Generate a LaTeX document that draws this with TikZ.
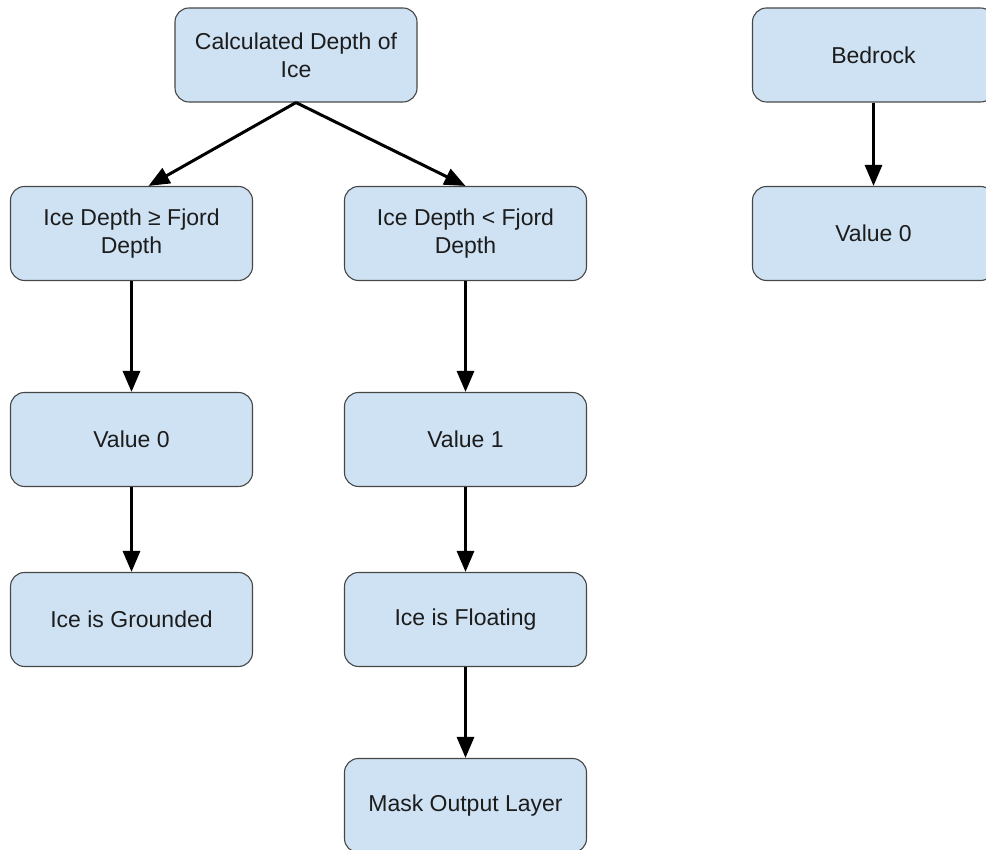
\documentclass[tikz,border=0pt]{standalone}
\usepackage{fontspec}
\setmainfont{Liberation Sans}
\usetikzlibrary{arrows.meta}
\definecolor{boxfill}{HTML}{CFE2F3}
\definecolor{boxline}{HTML}{474747}
\definecolor{boxtext}{HTML}{1C1C1C}
\tikzset{
  flowbox/.style={draw=boxline, line width=1.1pt, fill=boxfill, rounded corners=14pt,
    minimum width=242pt, minimum height=94pt, align=center, text=boxtext,
    font=\fontsize{23}{28}\selectfont, inner sep=0pt},
  flowarrow/.style={line width=3pt, -{Triangle[length=21pt,width=17pt]}}
}
\begin{document}
\begin{tikzpicture}[x=1pt,y=1pt]
                \clip (0,0) rectangle (986,850);
                \useasboundingbox (0,0) rectangle (986,850);
                
                % Top row
                \node [flowbox] (calc) at (296,795) {Calculated Depth of\\Ice};
                \node [flowbox] (bedrock) at (873.5,795) {Bedrock};
                
                % Comparison of depths
                \node [flowbox] (geq) at (131.5,616.5) {Ice Depth ≥ Fjord\\Depth};
                \node [flowbox] (lt) at (465.5,616.5) {Ice Depth < Fjord\\Depth};
                \node [flowbox] (rockval) at (873.5,616.5) {Value 0};
                
                % Values
                \node [flowbox] (valzero) at (131.5,410.5) {Value 0};
                \node [flowbox] (valone) at (465.5,410.5) {Value 1};
                
                % States
                \node [flowbox] (grounded) at (131.5,230.5) {Ice is Grounded};
                \node [flowbox] (floating) at (465.5,230.5) {Ice is Floating};
                
                % Output
                \node [flowbox] (mask) at (465.5,44.5) {Mask Output Layer};
                
                % Connectors
                \draw [flowarrow] (calc.south) -- ([xshift=17pt]geq.north);
                \draw [flowarrow] (calc.south) -- (lt.north);
                \draw [flowarrow] (bedrock) -- (rockval);
                \draw [flowarrow] (geq) -- (valzero);
                \draw [flowarrow] (lt) -- (valone);
                \draw [flowarrow] (valzero) -- (grounded);
                \draw [flowarrow] (valone) -- (floating);
                \draw [flowarrow] (floating) -- (mask);
            \end{tikzpicture}
\end{document}
